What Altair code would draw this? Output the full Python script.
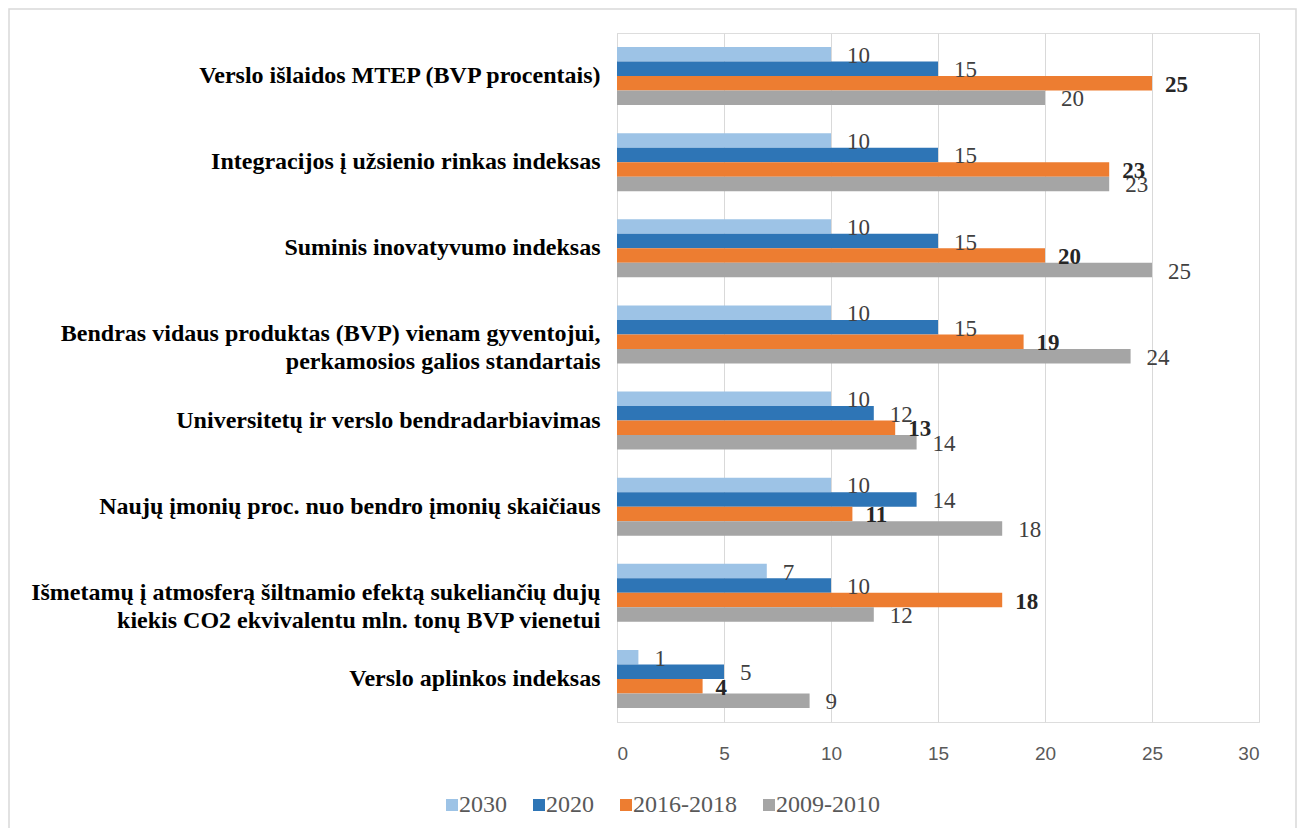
import altair as alt
import pandas as pd

categories = [
    "Verslo išlaidos MTEP (BVP procentais)",
    "Integracijos į užsienio rinkas indeksas",
    "Suminis inovatyvumo indeksas",
    "Bendras vidaus produktas (BVP) vienam gyventojui,|perkamosios galios standartais",
    "Universitetų ir verslo bendradarbiavimas",
    "Naujų įmonių proc. nuo bendro įmonių skaičiaus",
    "Išmetamų į atmosferą šiltnamio efektą sukeliančių dujų|kiekis CO2 ekvivalentu mln. tonų BVP vienetui",
    "Verslo aplinkos indeksas",
]
series = ["2030", "2020", "2016-2018", "2009-2010"]
v2030 = [10, 10, 10, 10, 10, 10, 7, 1]
v2020 = [15, 15, 15, 15, 12, 14, 10, 5]
v2016 = [25, 23, 20, 19, 13, 11, 18, 4]
v2009 = [20, 23, 25, 24, 14, 18, 12, 9]
colors = ["#9DC3E6", "#2E75B6", "#ED7D31", "#A5A5A5"]

SERIF = "Liberation Serif"

rows = []
for s, vals in zip(series, [v2030, v2020, v2016, v2009]):
    for c, v in zip(categories, vals):
        rows.append({"cat": c, "series": s, "value": v})
df = pd.DataFrame(rows)

y_enc = alt.Y("cat:N", sort=categories,
              scale=alt.Scale(paddingInner=0.327, paddingOuter=0.163),
              axis=alt.Axis(title=None, labelExpr="split(datum.label, '|')",
                            labelFont=SERIF, labelFontWeight="bold",
                            labelFontSize=24, labelColor="#000000", labelPadding=17,
                            labelLineHeight=28, ticks=False, domain=True,
                            domainColor="#d9d9d9", labelLimit=700))
yoff = alt.YOffset("series:N", sort=series, scale=alt.Scale(paddingInner=0, paddingOuter=0))
x_enc = alt.X("value:Q", scale=alt.Scale(domain=[0, 30]),
              axis=alt.Axis(title=None, values=[0, 5, 10, 15, 20, 25, 30],
                            grid=True, gridColor="#d9d9d9", domain=False, ticks=False,
                            labelFont="Liberation Sans Narrow, Liberation Sans, sans-serif",
                            labelFontSize=19,
                            labelColor="#595959", labelPadding=22))

base = alt.Chart(df)

bars = base.mark_bar().encode(
    x=x_enc, y=y_enc, yOffset=yoff,
    color=alt.Color("series:N", sort=series,
                    scale=alt.Scale(domain=series, range=colors),
                    legend=alt.Legend(title=None, orient="none", direction="horizontal",
                                      legendX=-177, legendY=760,
                                      symbolType="square", symbolSize=144,
                                      symbolStrokeWidth=0,
                                      labelFont=SERIF, labelFontSize=24,
                                      labelColor="#595959",
                                      labelOffset=alt.ExprRef(expr="-5"),
                                      columnPadding=20)),
)

labels_plain = base.transform_filter(alt.datum.series != "2016-2018").mark_text(
    align="left", baseline="middle", dx=16, dy=1.5,
    font=SERIF, fontSize=23, color="#404040",
).encode(x="value:Q", y=alt.Y("cat:N", sort=categories), yOffset=yoff, text="value:Q")

labels_bold = base.transform_filter(alt.datum.series == "2016-2018").mark_text(
    align="left", baseline="middle", dx=13, dy=1.5,
    font=SERIF, fontSize=23, fontWeight="bold", color="#262626",
).encode(x="value:Q", y=alt.Y("cat:N", sort=categories), yOffset=yoff, text="value:Q")

border_df = pd.DataFrame({"b": [1]})
border = alt.Chart(border_df).mark_rect(fill=None, stroke="#d9d9d9", strokeWidth=1.5,
                                        clip=False).encode(
    x=alt.value(-608), x2=alt.value(679), y=alt.value(-24), y2=alt.value(810))

chart = alt.layer(border, bars, labels_plain, labels_bold).properties(
    width=642, height=689,
    padding={"left": 609, "top": 25, "right": 38, "bottom": 106},
    autosize=alt.AutoSizeParams(type="none"),
).configure_view(stroke=None).configure(background="white")

chart.save("out.html", embed_options={"renderer": "svg", "actions": False})
